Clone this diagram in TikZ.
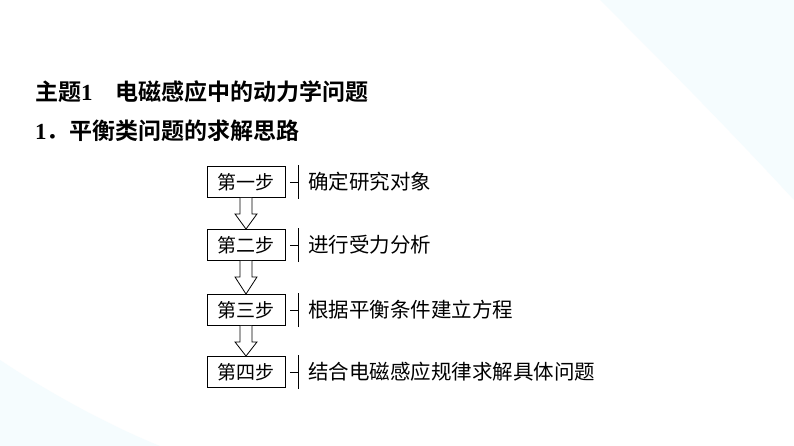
\documentclass[tikz,border=0pt]{standalone}
\usepackage{fontspec}
\newfontfamily\cjk{Noto Sans CJK SC}
\newfontfamily\cjkb{Noto Sans CJK SC Bold}
\newfontfamily\tnr{Liberation Serif}
\begin{document}
\begin{tikzpicture}[x=1pt,y=-1pt,
  stepbox/.style={draw,line width=0.9pt,minimum width=78pt,minimum height=31pt,inner sep=0pt,font=\cjk\fontsize{19}{19}\selectfont},
  desc/.style={anchor=west,inner sep=0pt,font=\cjk\fontsize{20.5}{21}\selectfont},
  ttl/.style={anchor=west,inner sep=0pt,font=\cjkb\fontsize{23}{23}\selectfont}]
\useasboundingbox (0,0) rectangle (794,446);
\fill[white] (0,0) rectangle (794,446);
\fill[cyan!4] (600,0) -- (794,0) -- (794,200) .. controls (720,120) and (660,60) .. (600,0);
\fill[cyan!4] (0,446) -- (0,360) .. controls (60,400) and (120,430) .. (160,446) -- cycle;
\node[ttl] (t1) at (35,92) {主题{\tnr\bfseries 1}\hspace{1em}电磁感应中的动力学问题};
\node[ttl] (t2) at (35,131) {{\tnr\bfseries 1}．平衡类问题的求解思路};
\foreach \i/\y/\lab/\txt in {1/182/第一步/确定研究对象, 2/245/第二步/进行受力分析, 3/310/第三步/根据平衡条件建立方程, 4/372/第四步/结合电磁感应规律求解具体问题}{
  \node[stepbox] (s\i) at (246,\y) {\lab};
  \coordinate (b\i) at (298,\y);
  \draw[line width=0.8pt] ([yshift=-17pt]b\i) -- ([yshift=17pt]b\i);
  \draw[line width=0.8pt] (290,\y) -- (b\i);
  \node[desc] (d\i) at (308,\y) {\txt};
}
\foreach \a/\b in {1/2,2/3,3/4}{
  \draw[line width=0.8pt,fill=white]
    ([xshift=-6pt]s\a.south) -- ([xshift=-6pt,yshift=-16pt]s\a.south) -- ([xshift=-11pt,yshift=-16pt]s\a.south)
    -- (s\b.north) -- ([xshift=11pt,yshift=-16pt]s\a.south) -- ([xshift=6pt,yshift=-16pt]s\a.south)
    -- ([xshift=6pt]s\a.south);
}
\end{tikzpicture}
\end{document}
